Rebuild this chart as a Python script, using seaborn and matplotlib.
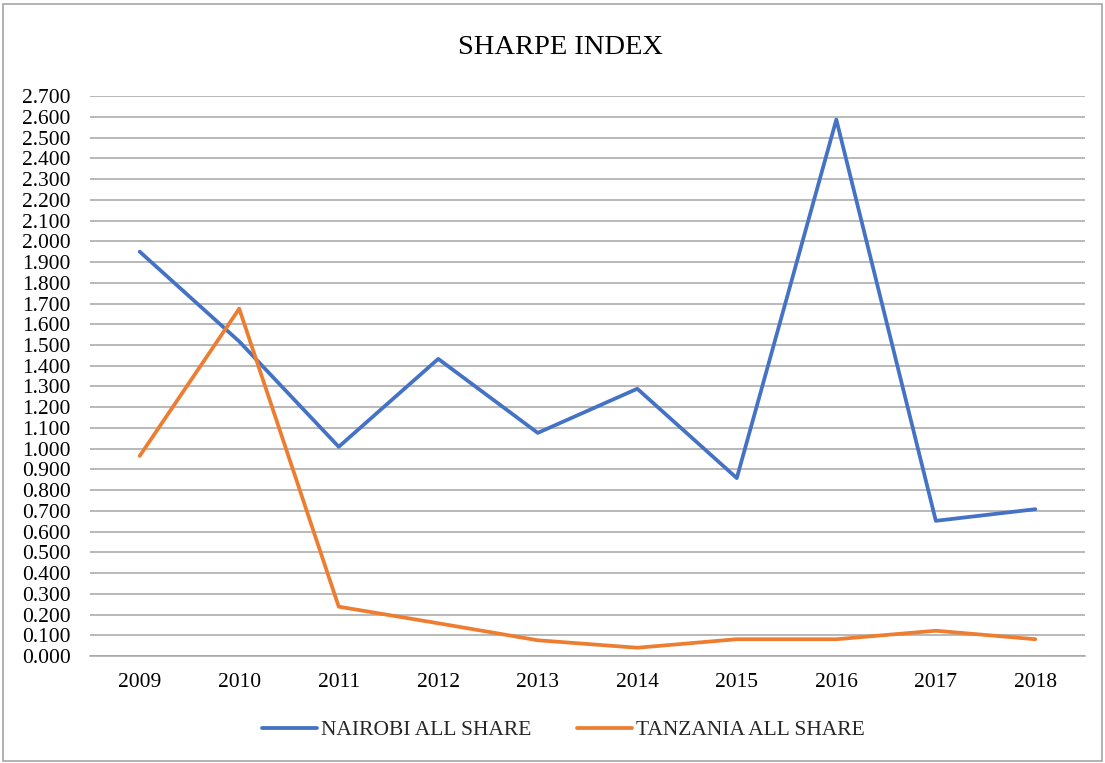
import matplotlib
matplotlib.use("Agg")
import matplotlib.pyplot as plt
import seaborn as sns
import pandas as pd
from matplotlib.patches import Rectangle
from matplotlib.ticker import MultipleLocator, FormatStrFormatter

years = ["2009", "2010", "2011", "2012", "2013", "2014", "2015", "2016", "2017", "2018"]
nairobi = [1.950, 1.517, 1.009, 1.433, 1.076, 1.289, 0.858, 2.587, 0.652, 0.708]
tanzania = [0.965, 1.675, 0.238, 0.158, 0.076, 0.040, 0.081, 0.081, 0.122, 0.081]
series_names = ["NAIROBI ALL SHARE", "TANZANIA ALL SHARE"]
colors = ["#4472C4", "#ED7D31"]

df = pd.DataFrame({
    "year": years * 2,
    "value": nairobi + tanzania,
    "series": [series_names[0]] * len(years) + [series_names[1]] * len(years),
})

sns.set_theme(style="white")
plt.rcParams["font.family"] = ["Liberation Serif", "DejaVu Serif"]

fig = plt.figure(figsize=(11.05, 7.63), dpi=100)
ax = fig.add_axes([0.0814, 0.1402, 0.9006, 0.7338])

sns.lineplot(data=df, x="year", y="value", hue="series", palette=colors,
             linewidth=2.7, ax=ax, sort=False, legend=True)

ax.set_xlim(-0.5, len(years) - 0.5)
ax.set_ylim(0, 2.7)
ax.yaxis.set_major_locator(MultipleLocator(0.1))
ax.yaxis.set_major_formatter(FormatStrFormatter("%.3f"))
ax.grid(axis="y", color="#A6A6A6", linewidth=1.1)
ax.grid(axis="x", visible=False)
ax.set_axisbelow(True)
for s in ["top", "right", "left"]:
    ax.spines[s].set_visible(False)
ax.spines["bottom"].set_color("#A6A6A6")
ax.spines["bottom"].set_linewidth(1.1)
ax.tick_params(axis="both", length=0, labelsize=15.5, colors="black")
ax.tick_params(axis="y", pad=14)
ax.tick_params(axis="x", pad=12)
ax.set_xlabel("")
ax.set_ylabel("")

fig.text(0.507, 0.938, "SHARPE INDEX", ha="center", va="center", fontsize=20.5, color="black")

handles, labels = ax.get_legend_handles_labels()
ax.legend(handles, labels, loc="center", bbox_to_anchor=(0.510, 0.043),
          bbox_transform=fig.transFigure, ncol=2, frameon=False, fontsize=15.5,
          handlelength=2.55, columnspacing=2.1, handletextpad=0.2)

fig.add_artist(Rectangle((0.003, 0.003), 0.994, 0.992, transform=fig.transFigure,
                         fill=False, edgecolor="#A6A6A6", linewidth=1.2))

fig.savefig("out.png", dpi=100)
